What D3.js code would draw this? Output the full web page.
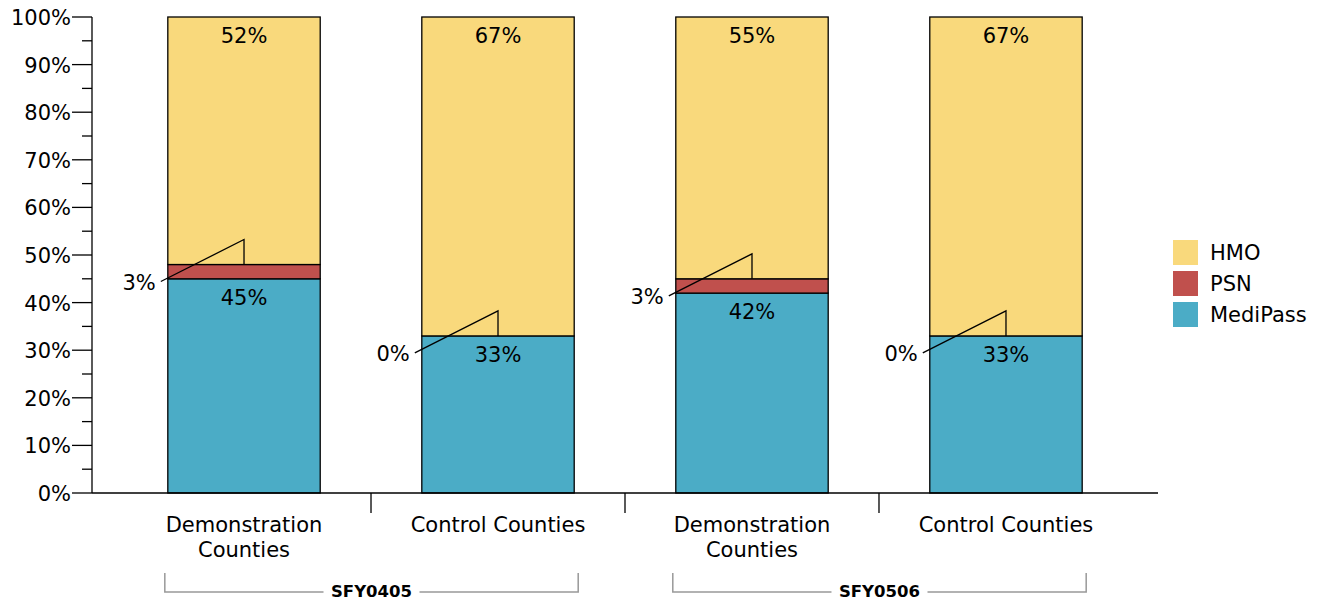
<!DOCTYPE html>
<html><head><meta charset="utf-8">
<script src="https://cdn.jsdelivr.net/npm/d3@7"></script>
<style>
html,body{margin:0;padding:0;background:#fff;}
svg{display:block;font-family:"DejaVu Sans",Verdana,sans-serif;}
</style></head>
<body>
<svg id="chart" width="1323" height="601"></svg>
<script>
const categories = ["Demonstration Counties|SFY0405", "Control Counties|SFY0405", "Demonstration Counties|SFY0506", "Control Counties|SFY0506"];
const categoryLabels = [["Demonstration", "Counties"], ["Control Counties"], ["Demonstration", "Counties"], ["Control Counties"]];
const groups = ["SFY0405", "SFY0506"];
const seriesNames = ["MediPass", "PSN", "HMO"];
const medipass = [45, 33, 42, 33];
const psn = [3, 0, 3, 0];
const hmo = [52, 67, 55, 67];
const yTicks = [0, 10, 20, 30, 40, 50, 60, 70, 80, 90, 100];
const colors = {HMO: "#F9D97C", PSN: "#C0504D", MediPass: "#4BACC6"};

const FS = 21;
const svg = d3.select("#chart");
const x = d3.scaleBand().domain(categories).range([92, 1158]).paddingInner(0.4).paddingOuter(0.2985);
const y = d3.scaleLinear().domain([0, 100]).range([493, 17]);

const rows = categories.map((c, i) => ({cat: c, MediPass: medipass[i], PSN: psn[i], HMO: hmo[i]}));
const stacked = d3.stack().keys(seriesNames)(rows);

// bars
stacked.forEach(s => {
  svg.append("g").selectAll("rect").data(s).join("rect")
    .attr("x", d => x(d.data.cat))
    .attr("y", d => y(d[1]))
    .attr("width", x.bandwidth())
    .attr("height", d => y(d[0]) - y(d[1]))
    .attr("fill", colors[s.key])
    .attr("stroke", "#000").attr("stroke-width", 1.3);
});

// value labels for MediPass and HMO
["MediPass", "HMO"].forEach(k => {
  const s = stacked.find(t => t.key === k);
  svg.append("g").selectAll("text").data(s).join("text")
    .attr("x", d => x(d.data.cat) + x.bandwidth() / 2)
    .attr("y", d => y(d[1]) + 26)
    .attr("text-anchor", "middle").attr("font-size", FS).attr("fill", "#000")
    .text(d => Math.round(d[1] - d[0]) + "%");
});

// PSN leader labels
const psnS = stacked.find(t => t.key === "PSN");
psnS.forEach(d => {
  const top = y(d[1]);
  const cx = x(d.data.cat) + x.bandwidth() / 2;
  const sx = x(d.data.cat) - 7, sy = top + 17;
  svg.append("path")
    .attr("d", `M${sx},${sy}L${cx},${top - 25}L${cx},${top}`)
    .attr("fill", "none").attr("stroke", "#000").attr("stroke-width", 1.3);
  svg.append("text").attr("x", sx - 5).attr("y", sy + 8)
    .attr("text-anchor", "end").attr("font-size", FS).text(Math.round(d[1] - d[0]) + "%");
});

// y axis
const ya = svg.append("g");
ya.append("line").attr("x1", 92).attr("x2", 92).attr("y1", y(100)).attr("y2", y(0)).attr("stroke", "#000").attr("stroke-width", 1.3);
d3.range(0, 101, 5).forEach(v => {
  const major = v % 10 === 0;
  ya.append("line").attr("x1", major ? 72 : 82).attr("x2", 92).attr("y1", y(v)).attr("y2", y(v)).attr("stroke", "#000").attr("stroke-width", 1.3);
});
ya.selectAll("text").data(yTicks).join("text")
  .attr("x", 71).attr("y", d => y(d) + 8)
  .attr("text-anchor", "end").attr("font-size", FS).text(d => d + "%");

// x axis
svg.append("line").attr("x1", 92).attr("x2", 1158).attr("y1", 493).attr("y2", 493).attr("stroke", "#000").attr("stroke-width", 1.3);
const step = x.step();
categories.slice(1).forEach(c => {
  const sx = x(c) - (step - x.bandwidth()) / 2;
  svg.append("line").attr("x1", sx).attr("x2", sx).attr("y1", 493).attr("y2", 513).attr("stroke", "#000").attr("stroke-width", 1.3);
});
categories.forEach((c, i) => {
  const cx = x(c) + x.bandwidth() / 2;
  const t = svg.append("text").attr("text-anchor", "middle").attr("font-size", FS);
  categoryLabels[i].forEach((ln, j) => {
    t.append("tspan").attr("x", cx).attr("y", 532 + j * 25).text(ln);
  });
});

// group brackets
groups.forEach((g, gi) => {
  const c0 = categories[gi * 2], c1 = categories[gi * 2 + 1];
  const x0 = x(c0) - 3, x1 = x(c1) + x.bandwidth() + 4;
  const mid = (x0 + x1) / 2;
  const by = 592;
  const gEl = svg.append("g");
  gEl.append("path").attr("d", `M${x0},573L${x0},${by}L${mid - 48},${by}M${mid + 48},${by}L${x1},${by}L${x1},573`)
    .attr("fill", "none").attr("stroke", "#999").attr("stroke-width", 1.5);
  gEl.append("text").attr("x", mid).attr("y", by + 5).attr("text-anchor", "middle")
    .attr("font-size", 16.5).attr("font-weight", "bold").text(g);
});

// legend
const legendItems = ["HMO", "PSN", "MediPass"];
const lg = svg.append("g");
legendItems.forEach((k, i) => {
  lg.append("rect").attr("x", 1173).attr("y", 240 + i * 31).attr("width", 25).attr("height", 25).attr("fill", colors[k]);
  lg.append("text").attr("x", 1210).attr("y", 260 + i * 31).attr("font-size", FS).text(k);
});
</script>
</body></html>
